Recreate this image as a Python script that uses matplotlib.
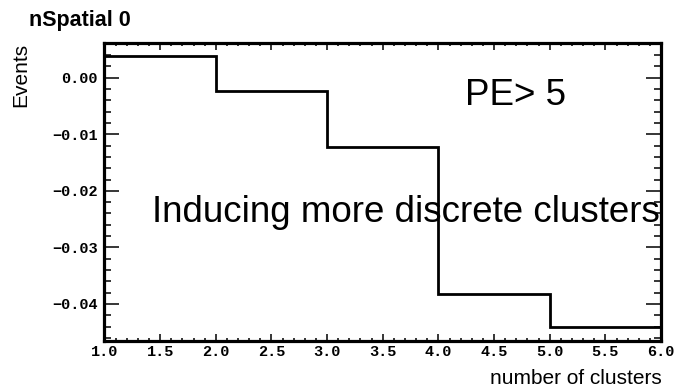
import matplotlib

matplotlib.use("Agg")  # headless
import matplotlib.pyplot as plt  # noqa: E402
from matplotlib.ticker import MultipleLocator, FuncFormatter  # noqa: E402

# histogram contents
BIN_EDGES = [1.0, 2.0, 3.0, 4.0, 5.0, 6.0]
EVENTS = [0.0038, -0.0023, -0.0123, -0.0383, -0.0441]

TITLE = "nSpatial 0"
XLABEL = "number of clusters"
YLABEL = "Events"
NOTE_CUT = "PE> 5"
NOTE_MAIN = "Inducing more discrete clusters"

SANS = ["Liberation Sans", "DejaVu Sans"]
MONO = ["Liberation Mono", "DejaVu Sans Mono"]


def fmt(decimals):
    def _f(v, _pos):
        s = f"{v:.{decimals}f}"
        if s.startswith("-"):
            s = "\u2212" + s[1:] if float(s) != 0 else s[1:]
        return s
    return FuncFormatter(_f)


def main() -> None:
    fig = plt.figure(figsize=(6.75, 3.88), dpi=100)
    fig.patch.set_facecolor("white")
    ax = fig.add_axes([0.1548, 0.1219, 0.8245, 0.768])

    ax.stairs(EVENTS, BIN_EDGES, baseline=None, color="black", lw=2.0)

    ax.set_xlim(1.0, 6.0)
    ax.set_ylim(-0.0465, 0.0062)

    # ROOT-like frame: ticks inside on all four sides
    for side in ax.spines.values():
        side.set_linewidth(2.3)
    ax.xaxis.set_major_locator(MultipleLocator(0.5))
    ax.xaxis.set_minor_locator(MultipleLocator(0.1))
    ax.yaxis.set_major_locator(MultipleLocator(0.01))
    ax.yaxis.set_minor_locator(MultipleLocator(0.002))
    ax.xaxis.set_major_formatter(fmt(1))
    ax.yaxis.set_major_formatter(fmt(2))
    ax.tick_params(axis="x", which="both", direction="in", top=True, bottom=True, width=1.1, pad=3)
    ax.tick_params(axis="x", which="major", length=5)
    ax.tick_params(axis="x", which="minor", length=2.5)
    ax.tick_params(axis="y", which="both", direction="in", left=True, right=True, width=1.1, pad=5)
    ax.tick_params(axis="y", which="major", length=10.8)
    ax.tick_params(axis="y", which="minor", length=5)
    for lab in ax.get_xticklabels() + ax.get_yticklabels():
        lab.set_family(MONO)
        lab.set_fontweight("bold")
        lab.set_fontsize(11)

    ax.text(0.648, 0.791, NOTE_CUT, transform=ax.transAxes, family=SANS,
            fontsize=26.5, ha="left", va="baseline")
    ax.text(0.0854, 0.398, NOTE_MAIN, transform=ax.transAxes, family=SANS,
            fontsize=26.5, ha="left", va="baseline", zorder=0)

    fig.text(0.043, 0.933, TITLE, family=SANS, fontweight="bold", fontsize=15.5,
             ha="left", va="baseline")
    fig.text(0.030, 0.889, YLABEL, family=SANS, fontsize=15, rotation=90,
             ha="center", va="top")
    fig.text(0.981, 0.0103, XLABEL, family=SANS, fontsize=15, ha="right", va="baseline")

    fig.savefig("out.png", dpi=100, facecolor="white")


if __name__ == "__main__":
    main()
